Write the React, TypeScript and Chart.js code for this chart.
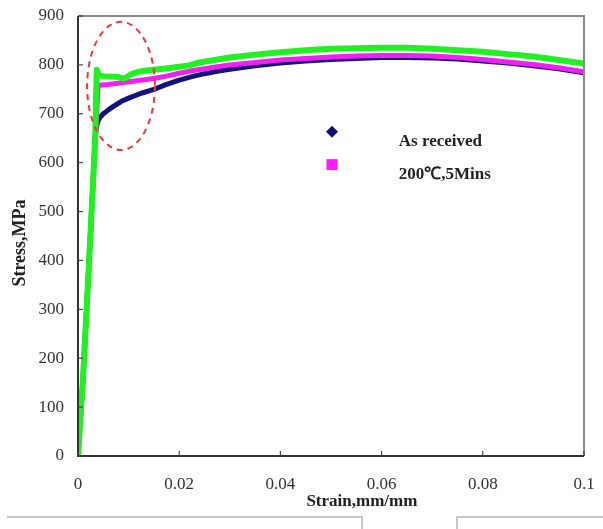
import React, { useEffect, useRef } from 'react';
import { Chart, registerables } from 'chart.js';
Chart.register(...registerables);

// ---- Data ----
const xTicks = [0, 0.02, 0.04, 0.06, 0.08, 0.1];
const yTicks = [0, 100, 200, 300, 400, 500, 600, 700, 800, 900];

const strainGreen = [0, 0.001, 0.0022, 0.0034, 0.0037, 0.0041, 0.005, 0.0065, 0.008, 0.009, 0.0095, 0.0105, 0.012, 0.014, 0.017, 0.02, 0.022, 0.024, 0.027, 0.03, 0.035, 0.04, 0.045, 0.05, 0.055, 0.06, 0.065, 0.07, 0.075, 0.08, 0.085, 0.09, 0.095, 0.1];
const stressGreen = [0, 160, 400, 650, 790, 779, 777, 776, 775, 772, 774, 781, 786, 789, 792, 796, 799, 805, 810, 815, 821, 826, 830, 833, 834, 835, 835, 833, 830, 827, 822, 817, 810, 803];

const strain200C = [0, 0.001, 0.0022, 0.0034, 0.004, 0.0045, 0.006, 0.0075, 0.009, 0.0105, 0.012, 0.0135, 0.015, 0.0175, 0.02, 0.0225, 0.025, 0.0275, 0.03, 0.035, 0.04, 0.045, 0.05, 0.055, 0.06, 0.065, 0.07, 0.075, 0.08, 0.085, 0.09, 0.095, 0.1];
const stress200C = [0, 160, 400, 650, 758, 759, 760, 762, 764, 766, 768, 770, 772, 777, 783, 788, 792, 796, 800, 805, 810, 813, 816, 818, 819, 819, 818, 815, 811, 806, 801, 794, 786];

const strainAsReceived = [0, 0.001, 0.0022, 0.0034, 0.0036, 0.0039, 0.0043, 0.005, 0.006, 0.007, 0.0085, 0.01, 0.0125, 0.015, 0.0175, 0.02, 0.0225, 0.025, 0.0275, 0.03, 0.035, 0.04, 0.045, 0.05, 0.055, 0.06, 0.065, 0.07, 0.075, 0.08, 0.085, 0.09, 0.095, 0.1];
const stressAsReceived = [0, 160, 400, 650, 670, 684, 692, 700, 708, 715, 725, 732, 742, 750, 760, 769, 776, 782, 787, 791, 798, 804, 808, 811, 813, 815, 815, 814, 812, 808, 804, 798, 792, 784];

const legendLabels = ['As received', '200\u2103,5Mins'];
const xTitle = 'Strain,mm/mm';
const yTitle = 'Stress,MPa';

const toPts = (xs: number[], ys: number[]) => xs.map((x, i) => ({ x, y: ys[i] }));

const SERIF = "'Liberation Serif', 'Times New Roman', serif";

const zeroPad = (s: any) => { s.paddingTop = 0; s.paddingBottom = 0; s.paddingLeft = 0; s.paddingRight = 0; };

const decorPlugin = {
  id: 'decor',
  afterDatasetsDraw(chart: any) {
    const { ctx, chartArea: a, scales } = chart;
    const xs = scales.x, ys = scales.y;
    ctx.save();
    // frame
    ctx.lineWidth = 2;
    ctx.strokeStyle = '#8a8a8a';
    ctx.beginPath();
    ctx.moveTo(a.left, a.top); ctx.lineTo(a.right, a.top); ctx.lineTo(a.right, a.bottom);
    ctx.stroke();
    ctx.strokeStyle = '#333';
    ctx.beginPath();
    ctx.moveTo(a.left, a.top); ctx.lineTo(a.left, a.bottom); ctx.lineTo(a.right, a.bottom);
    ctx.stroke();
    // inward ticks
    ctx.lineWidth = 1.2;
    ctx.strokeStyle = '#444';
    xTicks.forEach((v) => {
      const px = xs.getPixelForValue(v);
      ctx.beginPath(); ctx.moveTo(px, a.bottom); ctx.lineTo(px, a.bottom - 5); ctx.stroke();
    });
    yTicks.forEach((v) => {
      const py = ys.getPixelForValue(v);
      ctx.beginPath(); ctx.moveTo(a.left, py); ctx.lineTo(a.left + 5, py); ctx.stroke();
    });
    // red dashed ellipse
    const cx = xs.getPixelForValue(0.0085), cy = ys.getPixelForValue(757);
    const rx = xs.getPixelForValue(0.0085 + 0.0067) - cx;
    const ry = cy - ys.getPixelForValue(757 + 131);
    ctx.strokeStyle = '#e8383a';
    ctx.lineWidth = 2;
    ctx.setLineDash([6, 5]);
    ctx.beginPath(); ctx.ellipse(cx, cy, rx, ry, 0, 0, Math.PI * 2); ctx.stroke();
    ctx.setLineDash([]);
    // legend
    const lx = xs.getPixelForValue(0.0502);
    const ly1 = ys.getPixelForValue(663);
    const ly2 = ys.getPixelForValue(596);
    ctx.fillStyle = '#101070';
    ctx.beginPath();
    ctx.moveTo(lx, ly1 - 6); ctx.lineTo(lx + 6, ly1); ctx.lineTo(lx, ly1 + 6); ctx.lineTo(lx - 6, ly1);
    ctx.closePath(); ctx.fill();
    ctx.fillStyle = '#ff1aff';
    ctx.fillRect(lx - 5.5, ly2 - 5.5, 11, 11);
    ctx.fillStyle = '#222';
    ctx.font = `bold 17px ${SERIF}`;
    ctx.textAlign = 'left';
    ctx.textBaseline = 'middle';
    const tx = xs.getPixelForValue(0.0634);
    ctx.fillText(legendLabels[0], tx, ly1 + 10);
    ctx.fillText(legendLabels[1], tx, ly2 + 10);
    // axis titles
    ctx.font = `bold 17px ${SERIF}`;
    ctx.textAlign = 'center';
    ctx.fillText(xTitle, a.left + (a.right - a.left) * 0.561, a.bottom + 46);
    ctx.save();
    ctx.translate(20, a.top + (a.bottom - a.top) * 0.516);
    ctx.rotate(-Math.PI / 2);
    ctx.font = `bold 18px ${SERIF}`;
    ctx.fillText(yTitle, 0, 0);
    ctx.restore();
    // page artefact lines
    ctx.strokeStyle = '#b5b5b5';
    ctx.lineWidth = 1.5;
    ctx.beginPath();
    ctx.moveTo(7, 517); ctx.lineTo(362, 517); ctx.lineTo(362, 529);
    ctx.moveTo(457, 529); ctx.lineTo(457, 517); ctx.lineTo(603, 517);
    ctx.stroke();
    ctx.restore();
  },
};

export default function App() {
  const ref = useRef<HTMLCanvasElement>(null);
  useEffect(() => {
    document.body.style.margin = '0';
    const chart = new Chart(ref.current!, {
      type: 'line',
      data: {
        datasets: [
          {
            label: 'Series 3',
            data: toPts(strainGreen, stressGreen),
            borderColor: '#22f022',
            borderWidth: 6,
            pointRadius: 0,
            tension: 0,
            borderJoinStyle: 'round',
          },
          {
            label: legendLabels[1],
            data: toPts(strain200C, stress200C),
            borderColor: '#ee22ee',
            borderWidth: 5,
            pointRadius: 0,
            tension: 0,
            borderJoinStyle: 'round',
          },
          {
            label: legendLabels[0],
            data: toPts(strainAsReceived, stressAsReceived),
            borderColor: '#12127a',
            borderWidth: 5,
            pointRadius: 0,
            tension: 0,
            borderJoinStyle: 'round',
          },
        ],
      },
      options: {
        responsive: false,
        animation: false,
        devicePixelRatio: 1,
        layout: { padding: { top: 16, right: 19, left: 0, bottom: 0 } },
        plugins: { legend: { display: false }, tooltip: { enabled: false } },
        scales: {
          x: {
            type: 'linear',
            min: 0,
            max: 0.1,
            afterBuildTicks: (s: any) => { s.ticks = xTicks.map((v) => ({ value: v })); },
            afterFit: (s: any) => { s.height = 73; zeroPad(s); },
            ticks: {
              padding: 18,
              maxRotation: 0,
              color: '#333',
              font: { family: SERIF, size: 17 },
              callback: (v: any) => String(+Number(v).toFixed(2)),
            },
            grid: { display: false, drawTicks: false },
            border: { display: false },
          },
          y: {
            type: 'linear',
            min: 0,
            max: 900,
            afterBuildTicks: (s: any) => { s.ticks = yTicks.map((v) => ({ value: v })); },
            afterFit: (s: any) => { s.width = 78; zeroPad(s); },
            ticks: {
              padding: 14,
              color: '#333',
              font: { family: SERIF, size: 17 },
            },
            grid: { display: false, drawTicks: false },
            border: { display: false },
          },
        },
      },
      plugins: [decorPlugin],
    } as any);
    return () => chart.destroy();
  }, []);
  return (
    <div style={{ width: 603, height: 529, background: '#fff' }}>
      <canvas ref={ref} width={603} height={529} style={{ display: 'block' }} />
    </div>
  );
}
